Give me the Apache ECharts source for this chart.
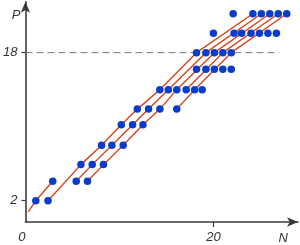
<!DOCTYPE html>
<html>
<head>
<meta charset="utf-8">
<script src="https://cdn.jsdelivr.net/npm/echarts@6/dist/echarts.min.js"></script>
<style>
html,body{margin:0;padding:0;background:#fff;}
#c{width:300px;height:245px;}
</style>
</head>
<body>
<div id="c"></div>
<script>
// tick labels
const xTickValues = [0, 20];
const yTickValues = [2, 18];
const xName = 'N';
const yName = 'P';

// dots: one P value per row, with the N values of the dots in that row
const rowP = [2, 4.1, 5.9, 8, 10.2, 11.9, 14, 16.2, 18, 20.1, 22.2];
const rowN = [
  [1.1, 2.4],
  [2.9, 5.4, 6.6],
  [5.9, 7.1, 8.3],
  [8.1, 9.2, 10.4],
  [10.2, 11.4, 12.5],
  [11.9, 13.1, 14.3, 16.1],
  [14.3, 15.2, 16.1, 17.1, 18.0, 18.8],
  [18.2, 19.2, 20.1, 21.0, 21.9],
  [18.2, 19.2, 20.1, 21.0, 21.9],
  [20.0, 22.2, 23.0, 24.0, 24.9, 25.8, 26.7],
  [22.1, 24.2, 25.1, 26.0, 26.9, 27.8]
];

// red lines: vertices [N, P]
const lineA = [[0.3, 0.8], [1.1, 2], [2.9, 4.1]];
const line0 = [[2.4, 2], [5.9, 5.9], [8.1, 8], [10.2, 10.2], [11.9, 11.9], [14.3, 14], [18.2, 18], [24.2, 22.2]];
const line1 = [[5.4, 4.1], [7.1, 5.9], [9.2, 8], [11.4, 10.2], [13.1, 11.9], [15.2, 14], [19.2, 18], [25.1, 22.2]];
const line2 = [[6.6, 4.1], [8.3, 5.9], [10.4, 8], [12.5, 10.2], [14.3, 11.9], [16.1, 14], [20.1, 18], [26.0, 22.2]];
const line3 = [[17.1, 14], [21.0, 18], [26.9, 22.2]];
const line4 = [[16.1, 11.9], [18.0, 14], [21.9, 18], [27.8, 22.2]];
const redLines = [lineA, line0, line1, line2, line3, line4];

// dashed reference level
const refP = 18;
const refEndN = 27;

const dots = [];
rowP.forEach((p, i) => rowN[i].forEach(n => dots.push([n, p])));

const font = "'Liberation Sans', Arial, sans-serif";
const axisColor = '#3a3a3a';
const textColor = '#333';

const series = [];
series.push({
  type: 'line', data: [[0, refP], [refEndN, refP]], symbol: 'none', silent: true,
  lineStyle: { color: '#777', width: 1, type: [7, 4] }, z: 1
});
redLines.forEach(l => series.push({
  type: 'line', data: l, symbol: 'none', silent: true,
  lineStyle: { color: '#d2461c', width: 1.4 }, z: 2
}));
series.push({
  type: 'scatter', data: dots, symbol: 'circle', symbolSize: 7.5,
  itemStyle: { color: '#0a3ccc', opacity: 1 }, z: 3
});

const chart = echarts.init(document.getElementById('c'), null, { renderer: 'canvas' });
chart.setOption({
  animation: false,
  backgroundColor: '#fff',
  grid: { left: 25, right: 2, top: 1.75, bottom: 20.1, containLabel: false },
  xAxis: {
    type: 'value', min: 0, max: 29,
    name: xName, nameLocation: 'end', nameGap: -10,
    nameTextStyle: { fontFamily: font, fontStyle: 'italic', fontSize: 13, color: textColor, align: 'right', verticalAlign: 'top', padding: [10, 0, 0, 0] },
    axisLine: { onZero: false, symbol: ['none', 'arrow'], symbolSize: [7, 11], lineStyle: { color: axisColor, width: 1.6 } },
    axisTick: { show: true, customValues: [20], length: 5, lineStyle: { color: axisColor, width: 1.2 } },
    axisLabel: {
      customValues: xTickValues, margin: 9, fontFamily: font, fontStyle: 'italic', fontSize: 13, color: textColor,
      formatter: v => v === 0 ? '{o|0}' : String(v),
      rich: { o: { fontFamily: font, fontStyle: 'italic', fontSize: 13, color: textColor, padding: [0, 7, 0, 0] } }
    },
    splitLine: { show: false }
  },
  yAxis: {
    type: 'value', min: -0.3, max: 23.5,
    name: yName, nameLocation: 'end', nameGap: -20,
    nameTextStyle: { fontFamily: font, fontStyle: 'italic', fontSize: 13, color: textColor, align: 'right', verticalAlign: 'bottom', padding: [0, 5, 0, 0] },
    axisLine: { onZero: false, symbol: ['none', 'arrow'], symbolSize: [7, 11], lineStyle: { color: axisColor, width: 1.6 } },
    axisTick: { show: true, customValues: yTickValues, length: 4, lineStyle: { color: axisColor, width: 1.2 } },
    axisLabel: { customValues: yTickValues, margin: 8, fontFamily: font, fontStyle: 'italic', fontSize: 13, color: textColor },
    splitLine: { show: false }
  },
  series: series
});
</script>
</body>
</html>
